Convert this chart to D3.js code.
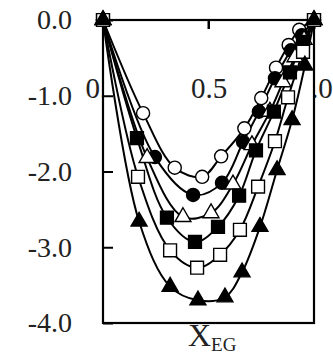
<!DOCTYPE html>
<html>
<head>
<meta charset="utf-8">
<script src="https://cdn.jsdelivr.net/npm/d3@7"></script>
<style>
  body { margin: 0; background: #fff; }
  svg { display: block; }
  svg text { font-family: "Liberation Serif", "DejaVu Serif", serif; }
</style>
</head>
<body>
<div id="chart"></div>
<script>
// mole fraction X_EG and values for each series
const openCircleX = [0, 0.19, 0.34, 0.47, 0.56, 0.67, 0.75, 0.82, 0.88, 0.93, 1];
const openCircleY = [0, -1.23, -1.95, -2.07, -1.80, -1.43, -1.03, -0.63, -0.33, -0.13, 0];

const filledCircleX = [0, 0.246, 0.427, 0.564, 0.664, 0.739, 0.815, 0.891, 0.943, 1];
const filledCircleY = [0, -1.81, -2.31, -2.15, -1.61, -1.21, -0.77, -0.40, -0.20, 0];

const openTriangleX = [0, 0.209, 0.379, 0.512, 0.616, 0.706, 0.791, 0.853, 0.910, 0.953, 1];
const openTriangleY = [0, -1.82, -2.60, -2.55, -2.17, -1.65, -1.21, -0.82, -0.49, -0.26, 0];

const filledSquareX = [0, 0.161, 0.303, 0.436, 0.545, 0.645, 0.725, 0.810, 0.886, 0.948, 1];
const filledSquareY = [0, -1.56, -2.61, -2.93, -2.73, -2.32, -1.72, -1.21, -0.69, -0.29, 0];

const openSquareX = [0, 0.166, 0.318, 0.446, 0.555, 0.649, 0.735, 0.815, 0.877, 0.948, 1];
const openSquareY = [0, -2.07, -3.04, -3.27, -3.10, -2.77, -2.20, -1.60, -1.02, -0.42, 0];

const filledTriangleX = [0, 0.171, 0.318, 0.450, 0.578, 0.659, 0.744, 0.825, 0.896, 0.957, 1];
const filledTriangleY = [0, -2.66, -3.52, -3.70, -3.66, -3.33, -2.73, -1.98, -1.32, -0.60, 0];

const xTicks = [0, 0.5, 1];
const xTickLabels = ['0.0', '0.5', '1.0'];
const yTicks = [0, -1, -2, -3, -4];
const yTickLabels = ['0.0', '-1.0', '-2.0', '-3.0', '-4.0'];

const series = [
  { xs: openCircleX, ys: openCircleY, shape: 'circle', fill: '#fff' },
  { xs: filledCircleX, ys: filledCircleY, shape: 'circle', fill: '#000' },
  { xs: openTriangleX, ys: openTriangleY, shape: 'triangle', fill: '#fff' },
  { xs: filledSquareX, ys: filledSquareY, shape: 'square', fill: '#000' },
  { xs: openSquareX, ys: openSquareY, shape: 'square', fill: '#fff' },
  { xs: filledTriangleX, ys: filledTriangleY, shape: 'triangle', fill: '#000' }
];

const width = 333, height = 356;
const x = d3.scaleLinear().domain([0, 1]).range([103, 314]);
const y = d3.scaleLinear().domain([-4, 0]).range([323, 20]);

const svg = d3.select('#chart').append('svg')
  .attr('width', width)
  .attr('height', height);

// the x labels get partly hidden by the curve bundles near both ends
const clip = svg.append('clipPath').attr('id', 'xlab-clip');
clip.append('rect').attr('x', 0).attr('y', 0).attr('width', x(0)).attr('height', height);
clip.append('rect').attr('x', x(0.15)).attr('y', 0).attr('width', x(0.87) - x(0.15)).attr('height', height);
clip.append('rect').attr('x', x(1)).attr('y', 0).attr('width', width - x(1)).attr('height', height);

// y axis, ticks pointing into the plot
svg.append('g')
  .attr('transform', 'translate(' + x(0) + ',0)')
  .attr('font-family', 'Liberation Serif')
  .call(d3.axisLeft(y).tickValues(yTicks)
    .tickFormat((d, i) => yTickLabels[i])
    .tickSizeInner(-10).tickSizeOuter(0).tickPadding(31))
  .call(g => g.select('.domain').remove())
  .call(g => g.selectAll('line').attr('stroke', '#000').attr('stroke-width', 2))
  .call(g => g.selectAll('text').attr('fill', '#222').style('font-size', '28px'));

// x axis sits on the top edge, labels below it inside the plot
svg.append('g')
  .attr('transform', 'translate(0,' + y(0) + ')')
  .attr('font-family', 'Liberation Serif')
  .attr('clip-path', 'url(#xlab-clip)')
  .call(d3.axisBottom(x).tickValues(xTicks)
    .tickFormat((d, i) => xTickLabels[i])
    .tickSizeInner(9).tickSizeOuter(0).tickPadding(48))
  .call(g => g.select('.domain').remove())
  .call(g => g.selectAll('line').attr('stroke', '#000').attr('stroke-width', 2))
  .call(g => g.selectAll('text').attr('fill', '#222').style('font-size', '29px'));

// top tick at 0.5 (outside the clipped group so it always shows)
svg.append('line')
  .attr('x1', x(0.5)).attr('x2', x(0.5))
  .attr('y1', y(0)).attr('y2', y(0) + 9)
  .attr('stroke', '#000').attr('stroke-width', 2);

// frame
svg.append('rect')
  .attr('x', x(0))
  .attr('y', y(0))
  .attr('width', x(1) - x(0))
  .attr('height', y(-4) - y(0))
  .attr('fill', 'none')
  .attr('stroke', '#000')
  .attr('stroke-width', 2.2);

const line = d3.line()
  .x(d => x(d[0]))
  .y(d => y(d[1]))
  .curve(d3.curveCatmullRom.alpha(0.5));

series.forEach(s => {
  const pts = s.xs.map((v, i) => [v, s.ys[i]]);
  svg.append('path')
    .datum(pts)
    .attr('d', line)
    .attr('fill', 'none')
    .attr('stroke', '#000')
    .attr('stroke-width', 2);
});

const symbolOf = {
  circle: d3.symbol().type(d3.symbolCircle).size(135),
  square: d3.symbol().type(d3.symbolSquare).size(165),
  triangle: d3.symbol().type(d3.symbolTriangle).size(110)
};

series.forEach(s => {
  const pts = s.xs.map((v, i) => [v, s.ys[i]]);
  svg.append('g').selectAll('path')
    .data(pts)
    .enter().append('path')
    .attr('transform', d => 'translate(' + x(d[0]) + ',' + y(d[1]) + ')')
    .attr('d', symbolOf[s.shape])
    .attr('fill', s.fill)
    .attr('stroke', '#000')
    .attr('stroke-width', 1.4);
});

// axis title X_EG
const title = svg.append('text')
  .attr('x', 188)
  .attr('y', 346)
  .attr('fill', '#222')
  .style('font-size', '32px');
title.append('tspan').text('X');
title.append('tspan').attr('dy', 5).style('font-size', '19px').text('EG');
</script>
</body>
</html>
